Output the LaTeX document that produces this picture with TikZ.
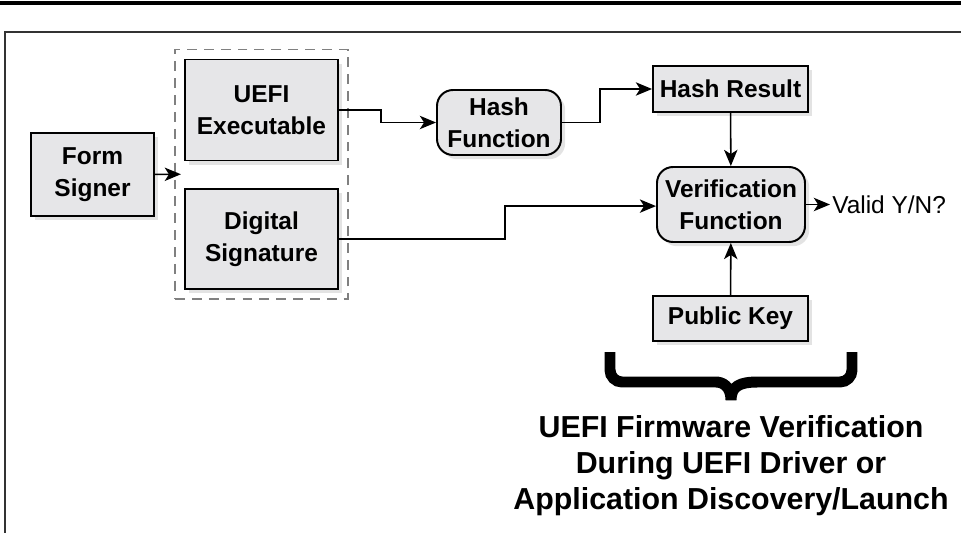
\documentclass[tikz,border=0pt]{standalone}
\usepackage{fontspec}
\setmainfont{Liberation Sans}
\usepackage{tikz}
\usetikzlibrary{positioning, arrows.meta, shadows, fit}

\definecolor{boxfill}{RGB}{230,230,232}
\definecolor{dashgray}{RGB}{128,128,128}

\begin{document}
\begin{tikzpicture}[
    every node/.style={align=center, font=\fontsize{17.4}{22.8}\selectfont\bfseries},
    blk/.style={draw, line width=1.4pt, fill=boxfill, inner sep=0pt,
        drop shadow={shadow xshift=3pt, shadow yshift=-3pt, opacity=0.22}},
    rblk/.style={blk, rounded corners=0.4cm},
    group/.style={draw=dashgray, line width=1.3pt, dash pattern=on 7pt off 5pt, inner sep=0.225cm},
    conn/.style={line width=1.1pt, -{Stealth[length=11.5pt, width=9.5pt, inset=3pt]}},
    bracestroke/.style={line width=7.8pt, rounded corners=0.3cm}
]
\useasboundingbox (0,0) rectangle (24.025,13.3);
% page rule and frame
\draw[line width=2.2pt] (0,13.225) -- (24.025,13.225);
\draw[line width=1.4pt, draw=black!80] (0.125,-0.1) -- (0.125,12.5) -- (24.1,12.5);

% signing side
\node[blk, minimum width=3.075cm, minimum height=2.075cm] (signer) at (2.3125,8.9375) {Form\\Signer};
\node[blk, minimum width=3.825cm, minimum height=2.525cm] (exec) at (6.5375,10.55) {UEFI\\Executable};
\node[blk, minimum width=3.825cm, minimum height=2.5cm] (sig) at (6.5375,7.325) {Digital\\Signature};
\node[group, fit=(exec) (sig)] (image) {};

% verification side
\node[rblk, minimum width=3.1cm, minimum height=1.625cm] (hashfn) at (12.475,10.2375) {Hash\\Function};
\node[blk, minimum width=3.875cm, minimum height=1.15cm] (result) at (18.2625,11.075) {Hash Result};
\node[rblk, minimum width=3.7cm, minimum height=1.875cm] (verify) at (18.275,8.1875) {Verification\\Function};
\node[blk, minimum width=3.875cm, minimum height=1.125cm] (pubkey) at (18.2625,5.3375) {Public Key};
\node[right=0.6cm of verify, inner sep=0.05cm, font=\fontsize{17.4}{22.8}\selectfont] (valid) {Valid Y/N?};

\draw[conn] (signer) -- ([xshift=0.17cm]image.west);
\draw[conn] (exec.east) -- ++(1.05,0) |- (hashfn.west);
\draw[conn] (hashfn.east) -- ++(0.95,0) |- (result.west);
\draw[conn] (sig.east) -- ++(4.15,0) |- ([yshift=-0.04cm]verify.west);
\draw[conn] (result) -- (verify);
\draw[conn] (pubkey) -- (verify);
\draw[conn] (verify) -- (valid);

% brace and caption
\coordinate (tip) at (18.275,3.3);
\draw[bracestroke] (15.25,4.5) -- (15.25,3.75) -- (17.6,3.75)
    {[sharp corners] .. controls (18.05,3.75) and (18.275,3.65) .. (tip)
    .. controls (18.275,3.65) and (18.5,3.75) .. (18.95,3.75)} -- (21.3,3.75) -- (21.3,4.5);
\node[font=\fontsize{21.6}{25.8}\selectfont\bfseries] (caption) at (18.275,1.66)
    {UEFI Firmware Verification\\During UEFI Driver or\\Application Discovery/Launch};
\end{tikzpicture}
\end{document}
